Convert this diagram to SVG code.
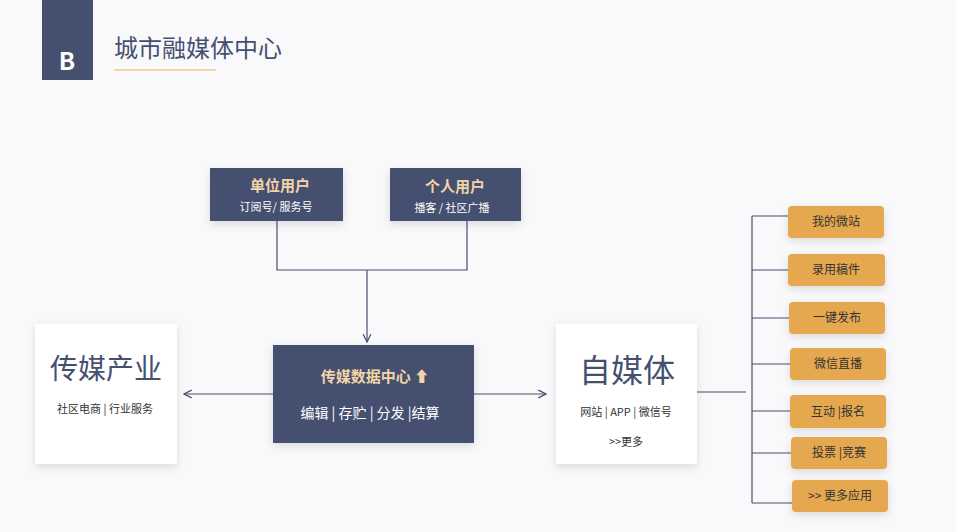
<svg xmlns="http://www.w3.org/2000/svg" width="956" height="532" viewBox="0 0 956 532">
<defs>
<style>
.t{font-family:"Noto Sans CJK SC","Noto Sans",sans-serif}
.dk{fill:#45506f}
.wb{fill:#fff}
.or{fill:#e5a84f}
.ln{stroke:#45506f;stroke-width:1.2;fill:none}
</style>
<filter id="sh" x="-20%" y="-20%" width="140%" height="150%"><feDropShadow dx="0" dy="3" stdDeviation="4" flood-color="#000" flood-opacity="0.12"/></filter>
<marker id="ar" viewBox="0 0 10 10" refX="9" refY="5" markerWidth="8" markerHeight="8" orient="auto"><path d="M1,1 L9,5 L1,9" fill="none" stroke="#45506f" stroke-width="1.3"/></marker>
</defs>
<rect width="956" height="532" fill="#f9f9fb"/>
<g id="header">
<rect x="42" y="0" width="51" height="80" class="dk"/>
<text x="67" y="70" text-anchor="middle" class="t" font-size="24" font-weight="bold" fill="#fff">B</text>
<text x="114" y="57" class="t" font-size="24" fill="#45506f">城市融媒体中心</text>
<rect x="114" y="69" width="102" height="2" fill="#f0d6a8"/>
</g>
<g id="connectors">
<path class="ln" d="M277,220 V270 H467 V220"/>
<path class="ln" d="M367,270 V342" marker-end="url(#ar)"/>
<path class="ln" d="M273,394 H184" marker-end="url(#ar)"/>
<path class="ln" d="M473,394 H546" marker-end="url(#ar)"/>
<path class="ln" d="M697,392 H746"/>
<path class="ln" d="M752,216 V503"/>
<path class="ln" d="M752,216 H788 M752,270 H788 M752,318 H789 M752,364 H790 M752,411 H790 M752,453 H791 M752,503 H792"/>
</g>
<g id="unit"><rect x="210" y="168" width="133" height="53" class="dk" filter="url(#sh)"/>
<text x="280" y="191" text-anchor="middle" class="t" font-size="15" font-weight="bold" fill="#f1d5a6">单位用户</text>
<text x="276" y="211" text-anchor="middle" class="t" font-size="11" fill="#fff">订阅号/ 服务号</text></g>
<g id="person"><rect x="390" y="168" width="131" height="53" class="dk" filter="url(#sh)"/>
<text x="455" y="192" text-anchor="middle" class="t" font-size="15" font-weight="bold" fill="#f1d5a6">个人用户</text>
<text x="452" y="212" text-anchor="middle" class="t" font-size="11" fill="#fff">播客 / 社区广播</text></g>
<g id="center"><rect x="273" y="345" width="201" height="98" class="dk" filter="url(#sh)"/>
<text x="375" y="382" text-anchor="middle" class="t" font-size="15" font-weight="bold" fill="#f1d5a6">传媒数据中心 ⬆</text>
<text x="370" y="418" text-anchor="middle" class="t" font-size="14" fill="#fff">编辑 | 存贮 | 分发 |结算</text></g>
<g id="industry"><rect x="35" y="324" width="142" height="140" class="wb" filter="url(#sh)"/>
<text x="106" y="379" text-anchor="middle" class="t" font-size="28" fill="#45506f">传媒产业</text>
<text x="105" y="413" text-anchor="middle" class="t" font-size="11" fill="#333">社区电商 |  行业服务</text></g>
<g id="selfmedia"><rect x="556" y="324" width="141" height="140" class="wb" filter="url(#sh)"/>
<text x="627" y="382" text-anchor="middle" class="t" font-size="32" fill="#45506f">自媒体</text>
<text x="626" y="416" text-anchor="middle" class="t" font-size="11" fill="#333">网站 | APP | 微信号</text>
<text x="626" y="446" text-anchor="middle" class="t" font-size="11" fill="#333">&gt;&gt;更多</text></g>
<g class="t" font-size="12" fill="#333" text-anchor="middle">
<g id="o1"><rect x="788" y="206" width="96" height="32" rx="4" class="or" filter="url(#sh)"/><text x="836" y="226">我的微站</text></g>
<g id="o2"><rect x="788" y="254" width="97" height="32" rx="4" class="or" filter="url(#sh)"/><text x="836" y="274">录用稿件</text></g>
<g id="o3"><rect x="789" y="302" width="96" height="32" rx="4" class="or" filter="url(#sh)"/><text x="837" y="322">一键发布</text></g>
<g id="o4"><rect x="790" y="348" width="96" height="32" rx="4" class="or" filter="url(#sh)"/><text x="838" y="368">微信直播</text></g>
<g id="o5"><rect x="790" y="395" width="96" height="33" rx="4" class="or" filter="url(#sh)"/><text x="838" y="416">互动 |报名</text></g>
<g id="o6"><rect x="791" y="437" width="96" height="32" rx="4" class="or" filter="url(#sh)"/><text x="839" y="457">投票 |竞赛</text></g>
<g id="o7"><rect x="792" y="480" width="96" height="32" rx="4" class="or" filter="url(#sh)"/><text x="840" y="500">&gt;&gt; 更多应用</text></g>
</g>
</svg>
